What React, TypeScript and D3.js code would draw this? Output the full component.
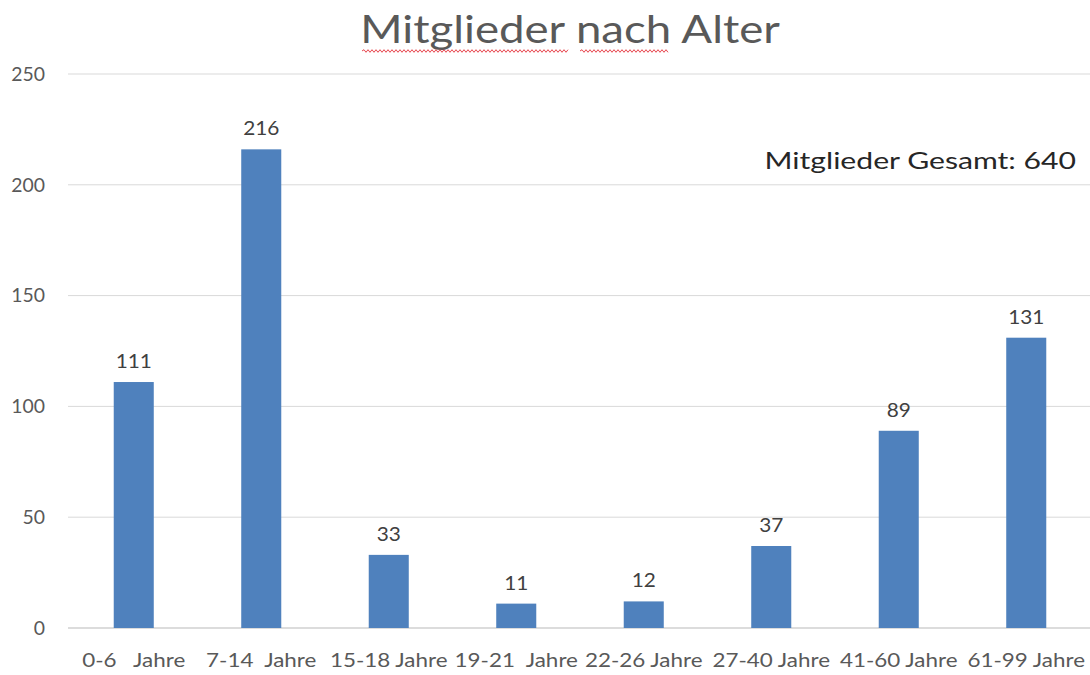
import React from "react";
import * as d3 from "d3";

const categories = ["0-6   Jahre", "7-14  Jahre", "15-18 Jahre", "19-21  Jahre", "22-26 Jahre", "27-40 Jahre", "41-60 Jahre", "61-99 Jahre"];
const values = [111, 216, 33, 11, 12, 37, 89, 131];
const yTicks = [0, 50, 100, 150, 200, 250];
const title = "Mitglieder nach Alter";
const annotation = "Mitglieder Gesamt: 640";

const W = 1090, H = 675;
const M = { left: 70, right: 0, top: 74, bottom: 47 };

function squiggle(x0: number, x1: number, y: number) {
  let d = `M${x0},${y}`;
  const step = 2;
  let up = true;
  for (let x = x0 + step; x <= x1; x += step) {
    d += ` L${x},${y + (up ? -1.3 : 1.3)}`;
    up = !up;
  }
  return d;
}

function T({ x, y, sx = 1, size, fill, anchor = "middle", dy, children }: any) {
  return (
    <text transform={`translate(${x},${y}) scale(${sx},1)`} textAnchor={anchor} fontSize={size} fill={fill} dy={dy} style={{ whiteSpace: "pre" }}>
      {children}
    </text>
  );
}

export default function App() {
  const x = d3.scaleBand<string>().domain(categories).range([M.left, W - M.right]).paddingInner(0.686).paddingOuter(0.343);
  const y = d3.scaleLinear().domain([0, 250]).range([H - M.bottom, M.top]);
  const font = "Lato, 'Open Sans', sans-serif";
  return (
    <svg width={W} height={H} style={{ position: "absolute", left: 0, top: 0, background: "#fff" }} fontFamily={font}>
      {yTicks.map((t) => (
        <g key={t}>
          <line x1={68} x2={W} y1={y(t)} y2={y(t)} stroke={t === 0 ? "#d0d0d0" : "#d9d9d9"} strokeWidth={t === 0 ? 1.5 : 1} />
          <T x={45} y={y(t)} size={19} sx={1.02} anchor="end" fill="#595959" dy="0.36em">{t}</T>
        </g>
      ))}
      {categories.map((c, i) => {
        const cx = (x(c) as number) + x.bandwidth() / 2;
        return (
          <g key={c}>
            <rect x={x(c)} y={y(values[i])} width={x.bandwidth()} height={y(0) - y(values[i])} fill="#4f81bd" />
            <T x={cx} y={y(values[i]) - 14} size={20} sx={1.04} fill="#404040">{values[i]}</T>
            <T x={cx} y={667} size={19} sx={1.18} fill="#595959">{c}</T>
          </g>
        );
      })}
      <T x={570} y={43} size={38} sx={1.2} fill="#595959">{title}</T>
      <path d={squiggle(362, 568, 51)} stroke="#e8474f" fill="none" strokeWidth={1} />
      <path d={squiggle(580, 668, 51)} stroke="#e8474f" fill="none" strokeWidth={1} />
      <T x={1076} y={169} size={22.5} sx={1.34} anchor="end" fill="#262626">{annotation}</T>
    </svg>
  );
}
